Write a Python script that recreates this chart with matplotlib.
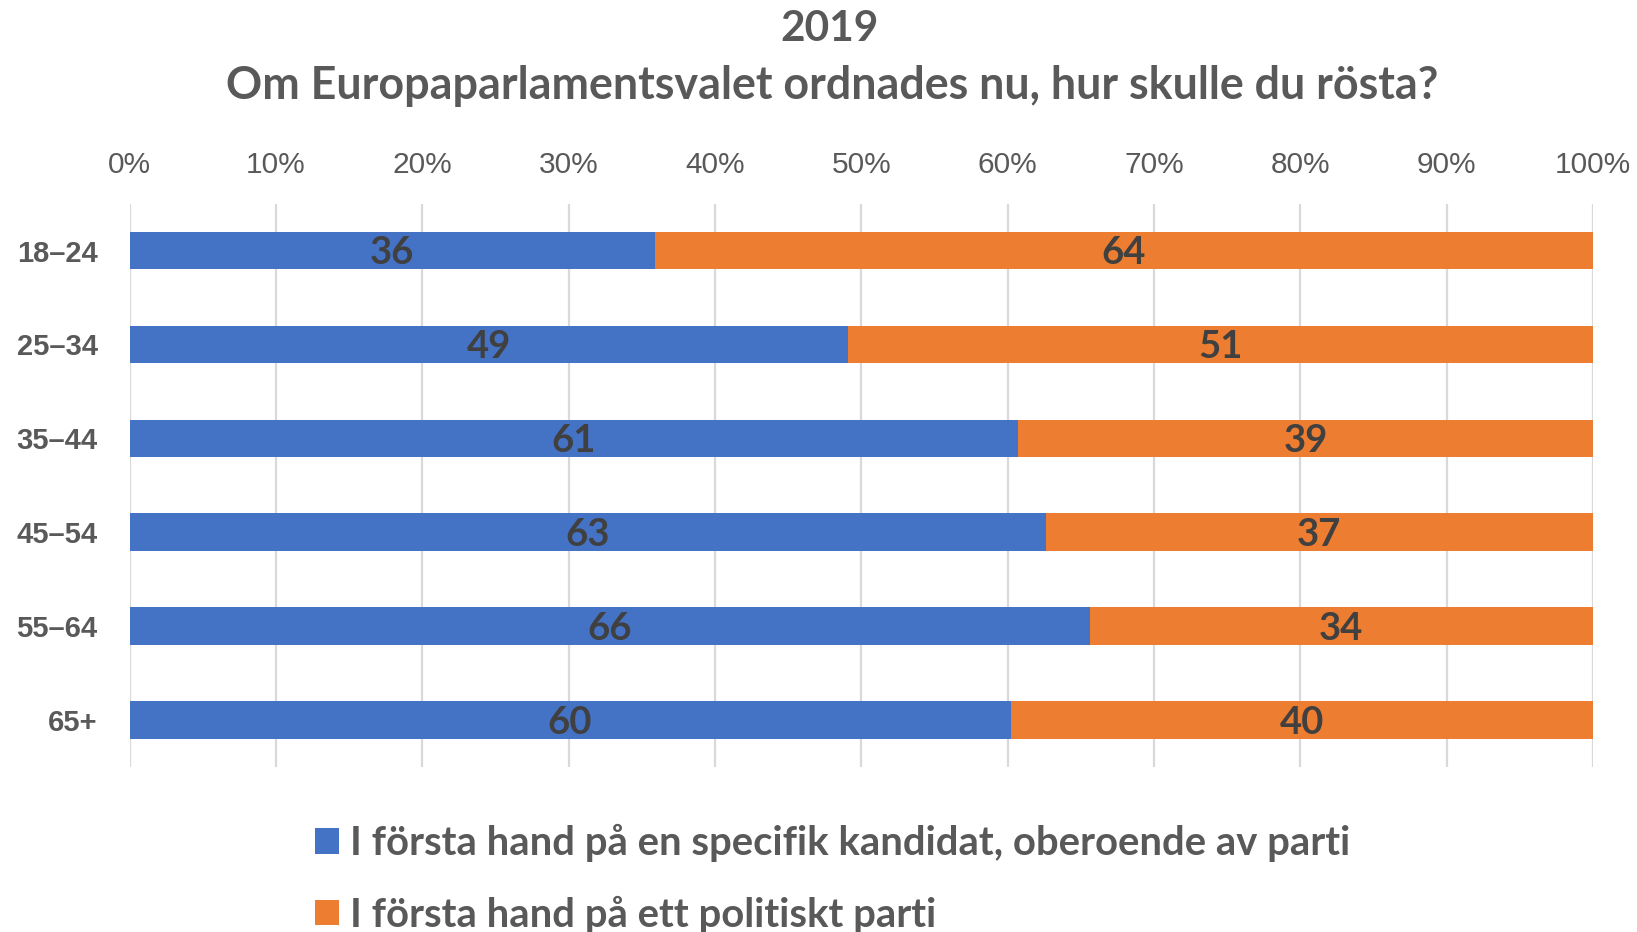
import matplotlib
matplotlib.use("Agg")
import matplotlib.pyplot as plt
import numpy as np

# ---- data ----
categories = ["18–24", "25–34", "35–44", "45–54", "55–64", "65+"]
kandidat = [35.9, 49.1, 60.7, 62.6, 65.6, 60.2]
parti = [64.1, 50.9, 39.3, 37.4, 34.4, 39.8]
xticks = [0, 10, 20, 30, 40, 50, 60, 70, 80, 90, 100]
series_names = ["I första hand på en specifik kandidat, oberoende av parti",
                "I första hand på ett politiskt parti"]
title_year = "2019"
title_text = "Om Europaparlamentsvalet ordnades nu, hur skulle du rösta?"

BLUE = "#4472C4"
ORANGE = "#ED7D31"
GRAY = "#595959"
DARK = "#404040"
CAL = "Lato"

W, H = 1637, 932
fig = plt.figure(figsize=(W / 100, H / 100), dpi=100)
x0, x1 = 129.5, 1593.0
y0, y1 = 203.6, 767.0
ax = fig.add_axes([x0 / W, 1 - y1 / H, (x1 - x0) / W, (y1 - y0) / H])

y = np.arange(len(categories))
ax.barh(y, kandidat, height=0.4, color=BLUE, label=series_names[0], zorder=2)
ax.barh(y, parti, left=kandidat, height=0.4, color=ORANGE, label=series_names[1], zorder=2)

for i in range(len(categories)):
    ax.text(kandidat[i] / 2, y[i] + 0.03, f"{round(kandidat[i])}", ha="center", va="center",
            fontsize=27.5, fontweight="bold", color=DARK, family=CAL, zorder=3)
    ax.text(kandidat[i] + parti[i] / 2, y[i] + 0.03, f"{round(parti[i])}", ha="center", va="center",
            fontsize=27.5, fontweight="bold", color=DARK, family=CAL, zorder=3)

ax.set_xlim(0, 100)
ax.set_ylim(len(categories) - 0.5, -0.5)
ax.xaxis.tick_top()
ax.set_xticks(xticks)
ax.set_xticklabels([f"{v}%" for v in xticks], fontsize=21.5, color=GRAY, family="Liberation Sans")
ax.set_yticks(y)
ax.set_yticklabels(categories, fontsize=21, color=GRAY, fontweight="bold", family="Liberation Sans")
ax.tick_params(axis="x", length=0, pad=18)
ax.tick_params(axis="y", length=0, pad=23)
ax.grid(axis="x", color="#d9d9d9", linewidth=1.6, zorder=0)
ax.set_axisbelow(True)
for s in ax.spines.values():
    s.set_visible(False)

fig.text(830 / W, 1 - 29 / H, title_year, ha="center", va="center", fontsize=30.5,
         fontweight="bold", color=GRAY, family=CAL)
fig.text(832 / W, 1 - 86 / H, title_text, ha="center", va="center", fontsize=32.3,
         fontweight="bold", color=GRAY, family=CAL)

handles, labels = ax.get_legend_handles_labels()
leg = fig.legend(handles, labels, loc="upper left", bbox_to_anchor=(315 / W, 1 - 824 / H),
                 frameon=False, borderpad=0, borderaxespad=0, handlelength=0.6,
                 handleheight=0.6, handletextpad=0.28, labelspacing=0.83,
                 prop={"family": CAL, "weight": "bold", "size": 28.8})
for t in leg.get_texts():
    t.set_color(GRAY)

fig.savefig("out.png", dpi=100, facecolor="white")
